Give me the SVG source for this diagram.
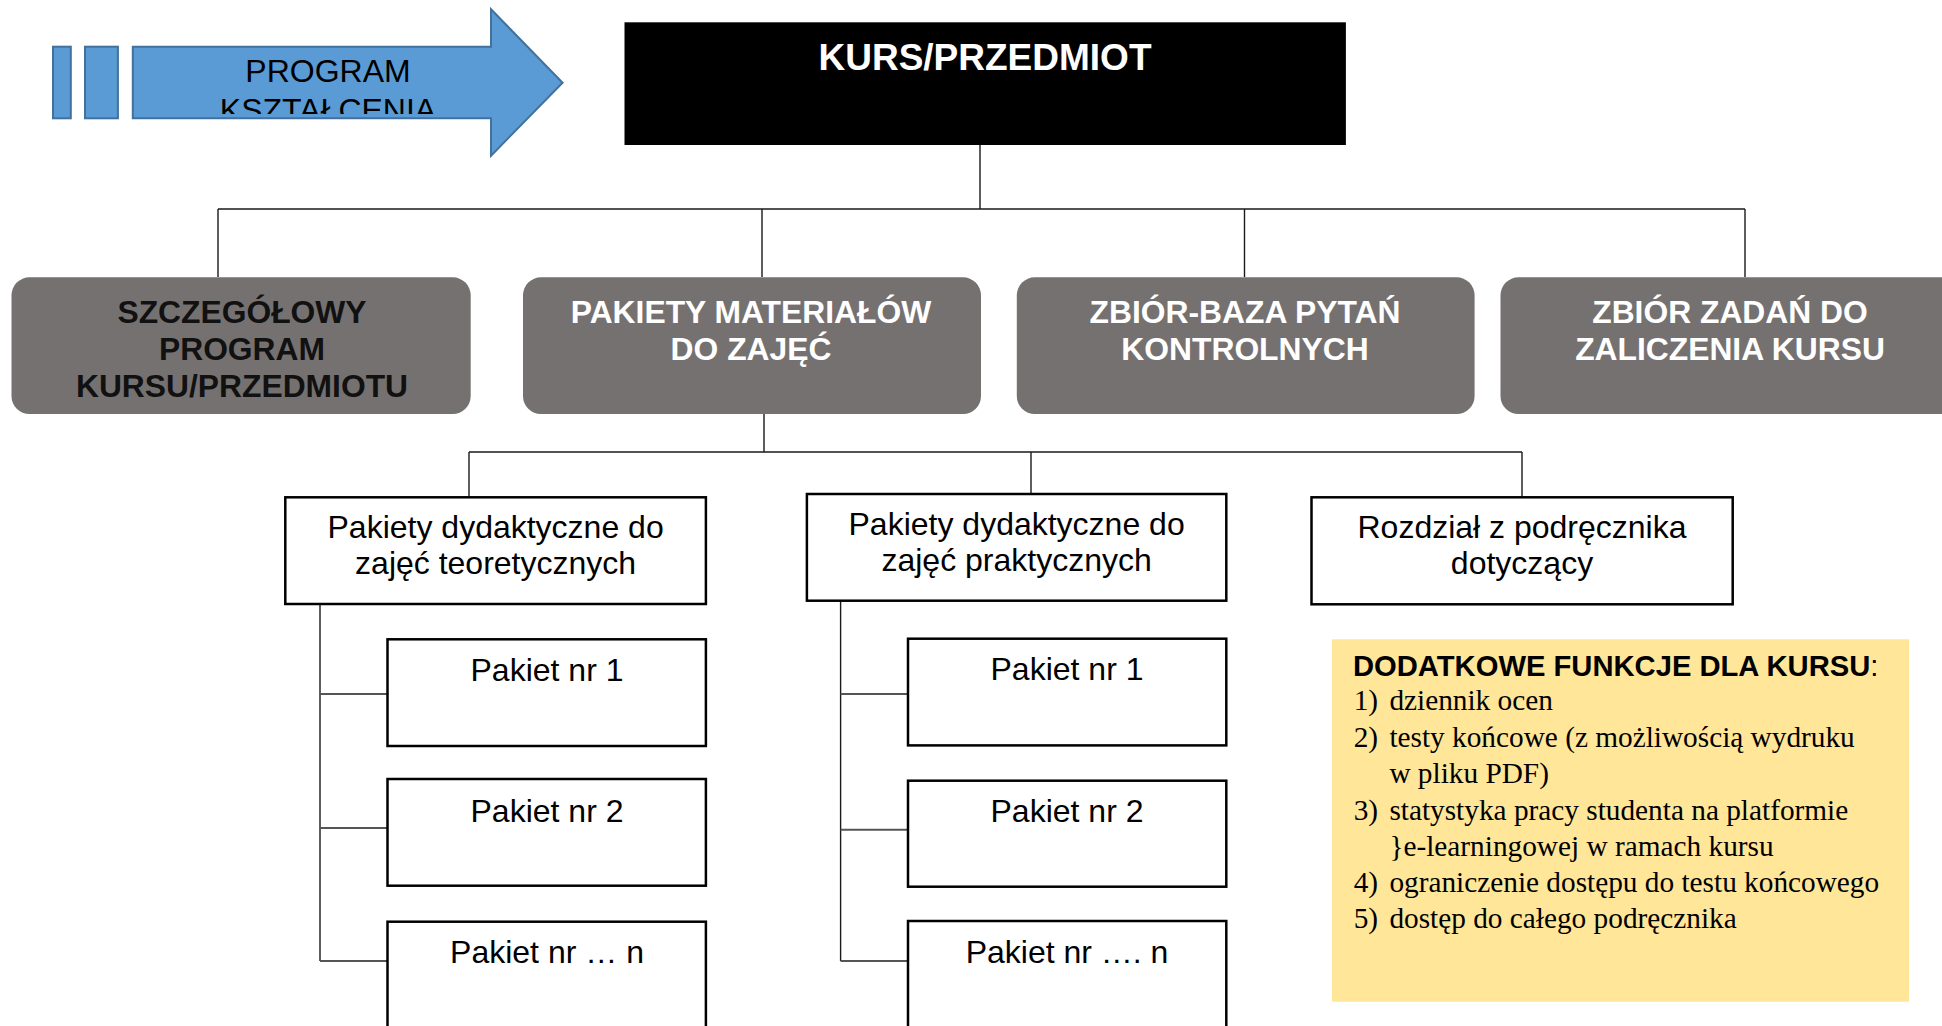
<svg xmlns="http://www.w3.org/2000/svg" width="1942" height="1026" viewBox="0 0 1942 1026">
<defs>
<style>
.arrow{fill:#5B9BD5;stroke:#41719C;stroke-width:2}
.gbox{fill:#767171}
.wbox{fill:#fff;stroke:#000;stroke-width:2.5}
.conn{fill:none;stroke:#1a1a1a;stroke-width:1.4}
.sub{fill:none;stroke:#555;stroke-width:2}
.t{font-family:"Liberation Sans",Arial,sans-serif;text-anchor:middle}
.gt{font-family:"Liberation Sans",Arial,sans-serif;font-weight:bold;font-size:31.8px;text-anchor:middle;fill:#fff}
.bt{font-size:32px;fill:#000}
.lt{font-family:"Liberation Serif","Times New Roman",serif;font-size:29.3px;fill:#000}
</style>
<clipPath id="clipArrow"><rect x="132" y="46" width="360" height="68"/></clipPath>
<clipPath id="clipC"><rect x="1311" y="497" width="422" height="98"/></clipPath>
</defs>
<rect width="1942" height="1026" fill="#fff"/>

<g id="connectors">
<path class="conn" d="M980,145 V209 M218,209 H1745 M218,209 V277 M762,209 V277 M1244.5,209 V277 M1745,209 V277"/>
<path class="conn" d="M764,414 V452 M469,452 H1522 M469,452 V497 M1031,452 V494 M1522,452 V497"/>
<path class="conn" d="M320,604 V961 M840.6,601 V961"/>
<path class="sub" d="M320,694 H387.5 M320,828 H387.5 M320,961 H387.5 M840.6,694 H908 M840.6,829.7 H908 M840.6,961 H908"/>
</g>

<g id="program-ksztalcenia">
<rect class="arrow" x="53" y="46.7" width="17.8" height="71.6"/>
<rect class="arrow" x="85" y="46.7" width="32.9" height="71.6"/>
<polygon class="arrow" points="132.8,46.7 491,46.7 491,9.3 562.6,82.7 491,155.7 491,118.3 132.8,118.3"/>
<g clip-path="url(#clipArrow)">
<text class="t" x="328" y="82.3" font-size="32" fill="#000">PROGRAM</text>
<text class="t" x="328" y="121" font-size="32" fill="#000">KSZTAŁCENIA</text>
</g>
</g>

<g id="kurs-przedmiot">
<rect x="624.5" y="22.3" width="721.4" height="122.7" fill="#000"/>
<text class="t" x="985" y="70" font-size="37" font-weight="bold" fill="#fff">KURS/PRZEDMIOT</text>
</g>

<g id="szczegolowy-program">
<rect class="gbox" x="11.5" y="277.3" width="459.2" height="136.7" rx="18"/>
<text class="gt" x="242" y="323.3" style="fill:#111">SZCZEGÓŁOWY</text>
<text class="gt" x="242" y="360" style="fill:#111">PROGRAM</text>
<text class="gt" x="242" y="396.7" style="fill:#111">KURSU/PRZEDMIOTU</text>
</g>

<g id="pakiety-materialow">
<rect class="gbox" x="523" y="277.3" width="458" height="136.7" rx="18"/>
<text class="gt" x="751" y="323.3">PAKIETY MATERIAŁÓW</text>
<text class="gt" x="751" y="360">DO ZAJĘĆ</text>
</g>

<g id="zbior-baza">
<rect class="gbox" x="1016.8" y="277.3" width="457.8" height="136.7" rx="18"/>
<text class="gt" x="1245" y="323.3">ZBIÓR-BAZA PYTAŃ</text>
<text class="gt" x="1245" y="360">KONTROLNYCH</text>
</g>

<g id="zbior-zadan">
<rect class="gbox" x="1500.5" y="277.3" width="470" height="136.7" rx="18"/>
<text class="gt" x="1730" y="323.3">ZBIÓR ZADAŃ DO</text>
<text class="gt" x="1730" y="360">ZALICZENIA KURSU</text>
</g>

<g id="pakiety-teoretyczne">
<rect class="wbox" x="285.3" y="497.3" width="420.6" height="106.7"/>
<text class="t bt" x="495.6" y="538">Pakiety dydaktyczne do</text>
<text class="t bt" x="495.6" y="574">zajęć teoretycznych</text>
</g>

<g id="pakiety-praktyczne">
<rect class="wbox" x="806.9" y="494" width="419.4" height="106.7"/>
<text class="t bt" x="1016.6" y="534.5">Pakiety dydaktyczne do</text>
<text class="t bt" x="1016.6" y="570.5">zajęć praktycznych</text>
</g>

<g id="rozdzial">
<rect class="wbox" x="1311.5" y="497.3" width="421.2" height="107"/>
<g clip-path="url(#clipC)">
<text class="t bt" x="1522" y="538">Rozdział z podręcznika</text>
<text class="t bt" x="1522" y="574">dotyczący</text>
</g>
</g>

<g id="teo-pakiet-1">
<rect class="wbox" x="387.5" y="639.3" width="318.4" height="106.7"/>
<text class="t bt" x="547" y="680.5">Pakiet nr 1</text>
</g>
<g id="teo-pakiet-2">
<rect class="wbox" x="387.5" y="779" width="318.4" height="106.7"/>
<text class="t bt" x="547" y="821.5">Pakiet nr 2</text>
</g>
<g id="teo-pakiet-n">
<rect class="wbox" x="387.5" y="921.7" width="318.4" height="120"/>
<text class="t bt" x="547" y="963">Pakiet nr … n</text>
</g>

<g id="prak-pakiet-1">
<rect class="wbox" x="908" y="638.7" width="318.3" height="106.7"/>
<text class="t bt" x="1067" y="680">Pakiet nr 1</text>
</g>
<g id="prak-pakiet-2">
<rect class="wbox" x="908" y="780.7" width="318.3" height="106"/>
<text class="t bt" x="1067" y="821.5">Pakiet nr 2</text>
</g>
<g id="prak-pakiet-n">
<rect class="wbox" x="908" y="921" width="318.3" height="120"/>
<text class="t bt" x="1067" y="962.5">Pakiet nr …. n</text>
</g>

<g id="dodatkowe-funkcje">
<rect x="1332" y="639.3" width="577" height="362.4" fill="#FFE699"/>
<text x="1353" y="675.5" font-family="'Liberation Sans',Arial,sans-serif" font-size="29.2" fill="#000"><tspan font-weight="bold">DODATKOWE FUNKCJE DLA KURSU</tspan>:</text>
<text class="lt" x="1353.7" y="709.8">1)</text><text class="lt" x="1389.4" y="709.8">dziennik ocen</text>
<text class="lt" x="1353.7" y="746.5">2)</text><text class="lt" x="1389.4" y="746.5">testy końcowe (z możliwością wydruku</text>
<text class="lt" x="1389.4" y="782.8">w pliku PDF)</text>
<text class="lt" x="1353.7" y="819.8">3)</text><text class="lt" x="1389.4" y="819.8">statystyka pracy studenta na platformie</text>
<text class="lt" x="1389.4" y="855.5">}e-learningowej w ramach kursu</text>
<text class="lt" x="1353.7" y="892.2">4)</text><text class="lt" x="1389.4" y="892.2">ograniczenie dostępu do testu końcowego</text>
<text class="lt" x="1353.7" y="927.8">5)</text><text class="lt" x="1389.4" y="927.8">dostęp do całego podręcznika</text>
</g>
</svg>
